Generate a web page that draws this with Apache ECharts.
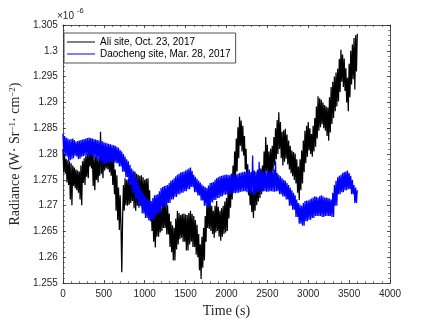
<!DOCTYPE html>
<html>
<head>
<meta charset="utf-8">
<script src="https://cdn.jsdelivr.net/npm/echarts@6/dist/echarts.min.js"></script>
<style>
  html, body { margin: 0; padding: 0; background: #fff; }
  #chart { width: 431px; height: 323px; }
</style>
</head>
<body>
<div id="chart"></div>
<script>
// radiance in units of 1e-6, one reading every 10 s, 4 readings per line
var stepSeconds = 10;

var aliRadiance = [
    1.2810,1.2765,1.2800,1.2762, 1.2791,1.2745,1.2788,1.2740, 1.2786,1.2712,1.2782,1.2701,
    1.2778,1.2738,1.2774,1.2734, 1.2770,1.2730,1.2768,1.2725, 1.2766,1.2712,1.2778,1.2701,
    1.2786,1.2744,1.2792,1.2740, 1.2797,1.2756,1.2800,1.2753, 1.2805,1.2776,1.2803,1.2772,
    1.2800,1.2738,1.2797,1.2730, 1.2795,1.2750,1.2793,1.2745, 1.2791,1.2758,1.2843,1.2762,
    1.2798,1.2753,1.2810,1.2768, 1.2810,1.2772,1.2807,1.2770, 1.2805,1.2765,1.2800,1.2758,
    1.2795,1.2740,1.2791,1.2722, 1.2770,1.2690,1.2759,1.2672, 1.2735,1.2653,1.2720,1.2660,
    1.2571,1.2676,1.2740,1.2690, 1.2753,1.2701,1.2750,1.2700, 1.2752,1.2702,1.2750,1.2705,
    1.2753,1.2709,1.2756,1.2695, 1.2766,1.2690,1.2762,1.2700, 1.2760,1.2696,1.2758,1.2700,
    1.2759,1.2696,1.2755,1.2702, 1.2750,1.2705,1.2752,1.2703, 1.2753,1.2701,1.2730,1.2670,
    1.2701,1.2651,1.2695,1.2630, 1.2690,1.2619,1.2692,1.2640, 1.2695,1.2640,1.2696,1.2648,
    1.2696,1.2651,1.2703,1.2657, 1.2709,1.2657,1.2705,1.2644, 1.2701,1.2644,1.2685,1.2620,
    1.2670,1.2610,1.2662,1.2594, 1.2657,1.2594,1.2675,1.2615, 1.2690,1.2625,1.2686,1.2635,
    1.2682,1.2638,1.2684,1.2630, 1.2685,1.2630,1.2683,1.2613, 1.2682,1.2613,1.2686,1.2625,
    1.2690,1.2630,1.2684,1.2620, 1.2680,1.2620,1.2672,1.2605, 1.2663,1.2600,1.2645,1.2575,
    1.2625,1.2558,1.2640,1.2580, 1.2657,1.2594,1.2680,1.2630, 1.2701,1.2657,1.2705,1.2655,
    1.2709,1.2651,1.2700,1.2645, 1.2690,1.2638,1.2700,1.2648, 1.2709,1.2651,1.2698,1.2640,
    1.2690,1.2632,1.2695,1.2640, 1.2700,1.2645,1.2708,1.2648, 1.2715,1.2651,1.2732,1.2675,
    1.2747,1.2696,1.2762,1.2712, 1.2778,1.2728,1.2805,1.2748, 1.2830,1.2766,1.2852,1.2792,
    1.2872,1.2816,1.2865,1.2805, 1.2855,1.2797,1.2835,1.2770, 1.2810,1.2740,1.2780,1.2720,
    1.2747,1.2701,1.2738,1.2688, 1.2728,1.2676,1.2740,1.2690, 1.2753,1.2701,1.2760,1.2708,
    1.2766,1.2715,1.2772,1.2722, 1.2778,1.2728,1.2805,1.2748, 1.2833,1.2766,1.2818,1.2756,
    1.2805,1.2747,1.2810,1.2757, 1.2816,1.2766,1.2833,1.2778, 1.2850,1.2790,1.2866,1.2800,
    1.2881,1.2810,1.2862,1.2792, 1.2843,1.2778,1.2846,1.2785, 1.2849,1.2791,1.2838,1.2780,
    1.2826,1.2770,1.2816,1.2763, 1.2807,1.2757,1.2804,1.2750, 1.2801,1.2743,1.2790,1.2725,
    1.2776,1.2711,1.2790,1.2730, 1.2807,1.2743,1.2826,1.2765, 1.2845,1.2782,1.2855,1.2795,
    1.2862,1.2807,1.2850,1.2800, 1.2839,1.2795,1.2855,1.2805, 1.2870,1.2814,1.2892,1.2830,
    1.2912,1.2845,1.2908,1.2852, 1.2905,1.2858,1.2900,1.2850, 1.2895,1.2845,1.2892,1.2835,
    1.2890,1.2826,1.2910,1.2842, 1.2930,1.2858,1.2940,1.2870, 1.2950,1.2883,1.2958,1.2892,
    1.2965,1.2902,1.2984,1.2920, 1.3002,1.2940,1.2993,1.2930, 1.2985,1.2922,1.2966,1.2900,
    1.2948,1.2883,1.2975,1.2910, 1.3000,1.2935,1.3012,1.2945, 1.3025,1.2925,1.3030,1.2960,
    1.3033
];

var daochengRadiance = [
    1.2839,1.2800,1.2835,1.2797, 1.2832,1.2795,1.2830,1.2786, 1.2828,1.2788,1.2829,1.2790,
    1.2830,1.2792,1.2827,1.2797, 1.2824,1.2795,1.2825,1.2790, 1.2826,1.2791,1.2827,1.2795,
    1.2828,1.2796,1.2829,1.2797, 1.2830,1.2798,1.2831,1.2797, 1.2832,1.2796,1.2831,1.2797,
    1.2830,1.2794,1.2829,1.2795, 1.2828,1.2790,1.2827,1.2790, 1.2826,1.2786,1.2825,1.2785,
    1.2825,1.2781,1.2823,1.2780, 1.2822,1.2782,1.2821,1.2782, 1.2820,1.2784,1.2819,1.2784,
    1.2818,1.2784,1.2817,1.2784, 1.2816,1.2782,1.2814,1.2782, 1.2812,1.2776,1.2808,1.2776,
    1.2805,1.2766,1.2800,1.2766, 1.2795,1.2755,1.2790,1.2755, 1.2786,1.2740,1.2779,1.2740,
    1.2772,1.2725,1.2768,1.2725, 1.2763,1.2712,1.2754,1.2712, 1.2745,1.2700,1.2738,1.2700,
    1.2730,1.2685,1.2725,1.2685, 1.2720,1.2676,1.2716,1.2676, 1.2712,1.2672,1.2710,1.2672,
    1.2709,1.2672,1.2715,1.2672, 1.2720,1.2682,1.2721,1.2682, 1.2722,1.2686,1.2728,1.2686,
    1.2734,1.2696,1.2736,1.2696, 1.2738,1.2700,1.2739,1.2700, 1.2740,1.2705,1.2744,1.2705,
    1.2748,1.2712,1.2750,1.2712, 1.2753,1.2717,1.2757,1.2717, 1.2760,1.2722,1.2762,1.2722,
    1.2764,1.2725,1.2765,1.2725, 1.2766,1.2728,1.2768,1.2728, 1.2770,1.2732,1.2772,1.2732,
    1.2774,1.2736,1.2767,1.2736, 1.2760,1.2726,1.2756,1.2726, 1.2752,1.2720,1.2748,1.2720,
    1.2745,1.2710,1.2741,1.2710, 1.2738,1.2700,1.2736,1.2700, 1.2734,1.2696,1.2739,1.2696,
    1.2744,1.2706,1.2745,1.2706, 1.2746,1.2711,1.2750,1.2711, 1.2753,1.2715,1.2755,1.2715,
    1.2757,1.2718,1.2758,1.2718, 1.2759,1.2721,1.2760,1.2721, 1.2760,1.2722,1.2760,1.2722,
    1.2759,1.2723,1.2761,1.2723, 1.2762,1.2724,1.2761,1.2724, 1.2760,1.2725,1.2762,1.2725,
    1.2763,1.2727,1.2764,1.2727, 1.2765,1.2728,1.2766,1.2728, 1.2766,1.2726,1.2768,1.2726,
    1.2770,1.2724,1.2765,1.2724, 1.2797,1.2720,1.2768,1.2720, 1.2766,1.2726,1.2770,1.2726,
    1.2785,1.2728,1.2768,1.2728, 1.2766,1.2728,1.2766,1.2728, 1.2765,1.2727,1.2767,1.2727,
    1.2768,1.2728,1.2767,1.2728, 1.2766,1.2727,1.2770,1.2727, 1.2786,1.2728,1.2763,1.2728,
    1.2760,1.2722,1.2757,1.2722, 1.2753,1.2718,1.2750,1.2718, 1.2748,1.2712,1.2744,1.2712,
    1.2740,1.2700,1.2735,1.2700, 1.2730,1.2692,1.2725,1.2692, 1.2720,1.2678,1.2712,1.2678,
    1.2705,1.2665,1.2702,1.2665, 1.2700,1.2661,1.2705,1.2661, 1.2709,1.2670,1.2710,1.2670,
    1.2710,1.2673,1.2712,1.2673, 1.2714,1.2676,1.2716,1.2676, 1.2718,1.2680,1.2717,1.2680,
    1.2716,1.2680,1.2718,1.2680, 1.2720,1.2678,1.2718,1.2678, 1.2716,1.2680,1.2716,1.2680,
    1.2715,1.2680,1.2714,1.2680, 1.2712,1.2678,1.2725,1.2678, 1.2740,1.2700,1.2748,1.2700,
    1.2755,1.2722,1.2758,1.2722, 1.2760,1.2726,1.2763,1.2726, 1.2765,1.2730,1.2766,1.2730,
    1.2768,1.2732,1.2763,1.2732, 1.2758,1.2722,1.2750,1.2722, 1.2740,1.2705,1.2735,1.2705,
    1.2730
];

var seriesNames = ['Ali site, Oct. 23, 2017', 'Daocheng site, Mar. 28, 2017'];

function toPoints(values) {
    return values.map(function (v, i) { return [i * stepSeconds, v]; });
}

var axisColor = '#262626';
var sansFont = 'Liberation Sans, Arial, sans-serif';
var serifFont = 'Liberation Serif, DejaVu Serif, serif';

function xAxisOf(pos, labels) {
    return {
        type: 'value', position: pos, min: 0, max: 4000, interval: 500,
        axisLine: { show: true, onZero: false, lineStyle: { color: axisColor, width: 0.8 } },
        axisTick: { show: true, inside: true, length: 3, lineStyle: { color: axisColor, width: 0.8 } },
        minorTick: { show: true, splitNumber: 5, length: 2, lineStyle: { color: axisColor, width: 0.6 } },
        splitLine: { show: false },
        axisLabel: {
            show: labels, color: axisColor, fontSize: 10, fontFamily: sansFont, margin: 6,
            formatter: function (v) { return String(v); }
        }
    };
}

function yAxisOf(pos, labels) {
    return {
        type: 'value', position: pos, min: 1.255, max: 1.305, interval: 0.005,
        axisLine: { show: true, onZero: false, lineStyle: { color: axisColor, width: 0.8 } },
        axisTick: { show: true, inside: true, length: 3, lineStyle: { color: axisColor, width: 0.8 } },
        minorTick: { show: true, splitNumber: 5, length: 2, lineStyle: { color: axisColor, width: 0.6 } },
        splitLine: { show: false },
        axisLabel: {
            show: labels, color: axisColor, fontSize: 10, fontFamily: sansFont, margin: 5,
            formatter: function (v) { return String(parseFloat(v.toFixed(3))); }
        }
    };
}

var myChart = echarts.init(document.getElementById('chart'), null, { renderer: 'canvas' });

var xMain = xAxisOf('bottom', true);
xMain.name = 'Time (s)';
xMain.nameLocation = 'middle';
xMain.nameGap = 19;
xMain.nameTextStyle = { fontFamily: serifFont, fontSize: 14, color: axisColor };

var yMain = yAxisOf('left', true);
yMain.name = 'Radiance (W· Sr{sup|−1}· cm{sup|−2})';
yMain.nameLocation = 'middle';
yMain.nameGap = 35;
yMain.nameTextStyle = {
    fontFamily: serifFont, fontSize: 14, color: axisColor,
    rich: {
        sup: { fontFamily: serifFont, fontSize: 9, color: axisColor, verticalAlign: 'top', lineHeight: 14 }
    }
};

var option = {
    animation: false,
    backgroundColor: '#fff',
    grid: { left: 56, right: 41, top: 25, bottom: 37 },
    legend: {
        orient: 'vertical',
        left: 64, top: 33,
        data: [
            { name: seriesNames[0], icon: 'rect' },
            { name: seriesNames[1], icon: 'rect' }
        ],
        backgroundColor: '#fff',
        borderColor: axisColor, borderWidth: 0.8,
        padding: [3, 5, 3, 3],
        itemGap: 0, itemWidth: 28, itemHeight: 1,
        textStyle: { fontSize: 10, fontFamily: sansFont, color: '#000', lineHeight: 12 }
    },
    xAxis: [xMain, xAxisOf('top', false)],
    yAxis: [yMain, yAxisOf('right', false)],
    graphic: [
        { type: 'text', left: 57, top: 11, style: { text: '×10', fontSize: 10, fontFamily: sansFont, fill: axisColor } },
        { type: 'text', left: 77, top: 7, style: { text: '-6', fontSize: 7.5, fontFamily: sansFont, fill: axisColor } }
    ],
    series: [
        {
            name: seriesNames[0], type: 'line', symbol: 'none',
            lineStyle: { color: '#000', width: 1.25 }, itemStyle: { color: '#000' },
            data: toPoints(aliRadiance)
        },
        {
            name: seriesNames[1], type: 'line', symbol: 'none',
            lineStyle: { color: '#0000ff', width: 1.25 }, itemStyle: { color: '#0000ff' },
            data: toPoints(daochengRadiance)
        }
    ]
};
myChart.setOption(option);
</script>
</body>
</html>
